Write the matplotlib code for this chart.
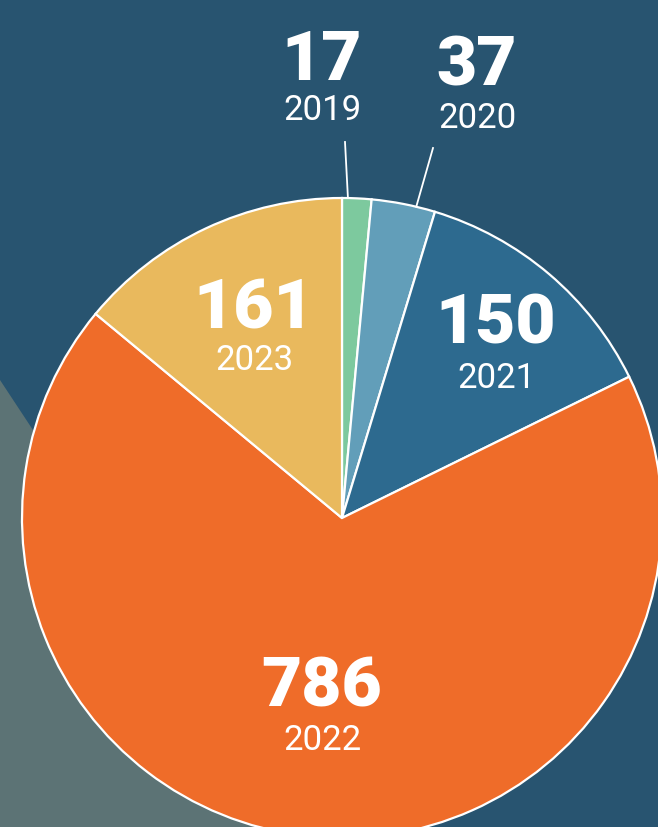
import numpy as np
import matplotlib
matplotlib.use("Agg")
import matplotlib.pyplot as plt
from matplotlib.patches import Polygon

# ---- data ----
years = ["2019", "2020", "2021", "2022", "2023"]
counts = [17, 37, 150, 786, 161]
colors = ["#7dc99e", "#629eb9", "#2d6a8f", "#ef6c29", "#e9b95d"]

# ---- layout (pixel coords, y measured from top) ----
W, H = 658, 827
cx, cy, R = 342, 518, 320
label_pos = {  # (x, y of number, y of year)
    "2019": (322, 62, 110),
    "2020": (477, 67, 118),
    "2021": (496, 325, 378),
    "2022": (322, 688, 741),
    "2023": (254, 310, 360),
}
leaders = {"2019": (0.2, 142, 345), "2020": (0.7, 148, 433)}

BG = "#285470"
GREY = "#5c7375"

fig = plt.figure(figsize=(W / 100, H / 100), dpi=100)
fig.patch.set_facecolor(BG)
ax = fig.add_axes([0, 0, 1, 1])
ax.set_facecolor(BG)

def fy(py):
    return H - py

# grey triangle background
ax.add_patch(Polygon([(0, fy(380)), (0, fy(H + 5)), (298, fy(H + 5))],
                     closed=True, facecolor=GREY, edgecolor="none", zorder=0))

wedges, _ = ax.pie(counts, colors=colors, startangle=90, counterclock=False,
                   center=(cx, fy(cy)), radius=R,
                   wedgeprops=dict(edgecolor="white", linewidth=1.6))
for w in wedges:
    w.set_zorder(2)

ax.set_aspect("auto")
ax.set_xlim(0, W)
ax.set_ylim(0, H)
ax.axis("off")

# leader lines
total = sum(counts)
cum = np.cumsum([0] + counts)
for i, y in enumerate(years):
    if y in leaders:
        frac, py_end, px_end = leaders[y]
        ang = (cum[i] + frac * counts[i]) / total * 2 * np.pi
        x0 = cx + R * np.sin(ang)
        y0 = cy - R * np.cos(ang)
        ax.plot([x0, px_end], [fy(y0), fy(py_end)], color="white", lw=1.3, zorder=3)

num_font = ["Roboto", "DejaVu Sans"]
for y, c in zip(years, counts):
    px, pyn, pyy = label_pos[y]
    ax.text(px, fy(pyn), str(c), ha="center", va="center", color="white",
            fontsize=50, fontweight="black", family=num_font, zorder=4)
    ax.text(px, fy(pyy), y, ha="center", va="center", color="white",
            fontsize=25, fontweight="normal", family=num_font, zorder=4)

fig.savefig("out.png", dpi=100, facecolor=BG)
